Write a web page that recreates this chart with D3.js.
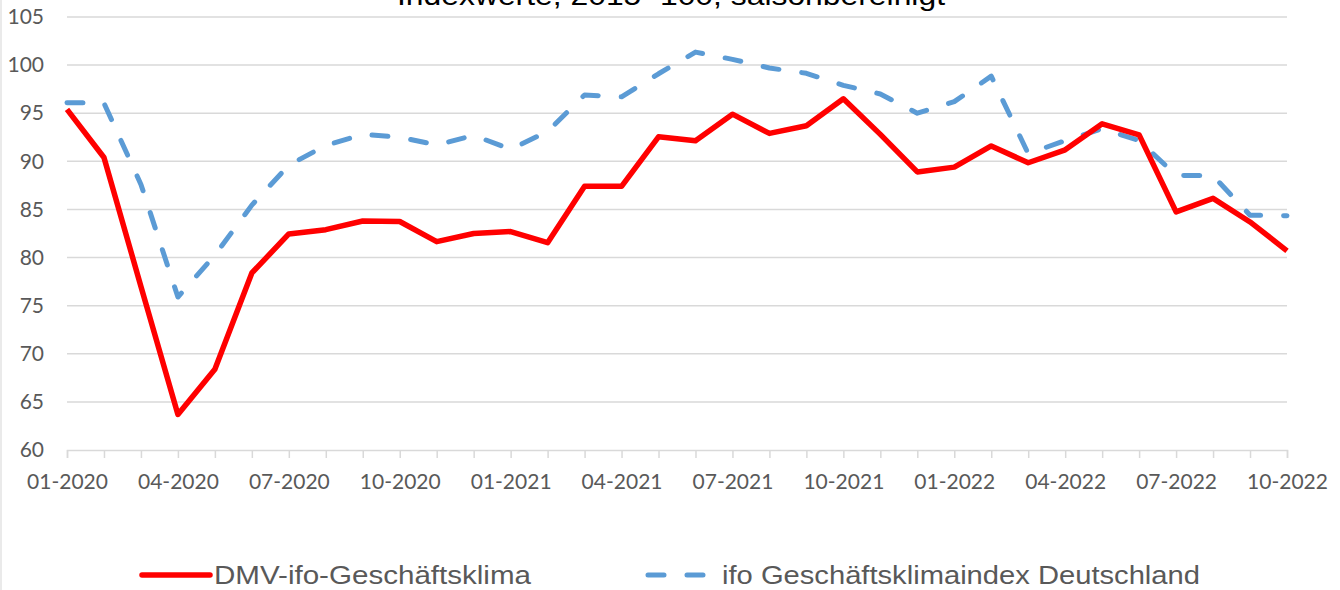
<!DOCTYPE html>
<html>
<head>
<meta charset="utf-8">
<script src="https://cdn.jsdelivr.net/npm/d3@7"></script>
<style>
  body { margin: 0; background: white; }
</style>
</head>
<body>
<script>
const months = [
  "01-2020", "02-2020", "03-2020", "04-2020", "05-2020", "06-2020",
  "07-2020", "08-2020", "09-2020", "10-2020", "11-2020", "12-2020",
  "01-2021", "02-2021", "03-2021", "04-2021", "05-2021", "06-2021",
  "07-2021", "08-2021", "09-2021", "10-2021", "11-2021", "12-2021",
  "01-2022", "02-2022", "03-2022", "04-2022", "05-2022", "06-2022",
  "07-2022", "08-2022", "09-2022", "10-2022"
];
const tickLabels = ["01-2020", "04-2020", "07-2020", "10-2020", "01-2021", "04-2021",
  "07-2021", "10-2021", "01-2022", "04-2022", "07-2022", "10-2022"];
const yTicks = [60, 65, 70, 75, 80, 85, 90, 95, 100, 105];

const dmv = [95.4, 90.4, 77.0, 63.7, 68.4, 78.4, 82.45, 82.9, 83.8, 83.75, 81.65, 82.5,
  82.7, 81.55, 87.4, 87.4, 92.55, 92.15, 94.9, 92.9, 93.7, 96.5, 92.8, 88.9,
  89.4, 91.6, 89.85, 91.2, 93.9, 92.75, 84.75, 86.15, 83.7, 80.7];
const ifo = [96.1, 96.05, 87.6, 75.9, 80.25, 85.45, 89.6, 91.65, 92.8, 92.5, 91.7, 92.7,
  91.25, 93.1, 96.9, 96.7, 99.1, 101.35, 100.6, 99.7, 99.15, 97.9, 97.0, 95.0,
  96.2, 98.85, 90.8, 92.15, 93.4, 92.15, 88.55, 88.5, 84.4, 84.35];

const seriesNames = ["DMV-ifo-Geschäftsklima", "ifo Geschäftsklimaindex Deutschland"];
const title = "Indexwerte, 2015=100, saisonbereinigt";

const width = 1340;
const height = 590;
const plotLeft = 67;
const plotRight = 1287;
const plotTop = 17;
const plotBottom = 450;

const svg = d3.select("body")
  .append("svg")
  .attr("width", width)
  .attr("height", height);

svg.append("rect")
  .attr("width", "100%")
  .attr("height", "100%")
  .attr("fill", "white");

// faint chart border on the left
svg.append("line")
  .attr("x1", 1).attr("x2", 1)
  .attr("y1", 0).attr("y2", height)
  .attr("stroke", "#e3e3e3")
  .attr("stroke-width", 1.5);

const x = d3.scalePoint().domain(months).range([plotLeft, plotRight]);
const y = d3.scaleLinear().domain([60, 105]).range([plotBottom, plotTop]);

// gridlines
svg.append("g")
  .selectAll("line")
  .data(yTicks.filter(d => d > 60))
  .join("line")
  .attr("x1", plotLeft)
  .attr("x2", plotRight)
  .attr("y1", d => y(d))
  .attr("y2", d => y(d))
  .attr("stroke", "#d9d9d9")
  .attr("stroke-width", 1.5);

// y axis labels
const yAxis = d3.axisLeft(y).tickValues(yTicks).tickSize(0).tickPadding(23);
const gy = svg.append("g")
  .attr("transform", "translate(" + plotLeft + ",0)")
  .call(yAxis);
gy.select(".domain").remove();
gy.selectAll("text")
  .attr("fill", "#595959")
  .style("font-family", "Lato, 'Open Sans', sans-serif")
  .style("font-size", "21px");

// x axis
const xAxis = d3.axisBottom(x)
  .tickSize(8)
  .tickPadding(16)
  .tickFormat(d => tickLabels.includes(d) ? d : "");
const gx = svg.append("g")
  .attr("transform", "translate(0," + plotBottom + ")")
  .call(xAxis);
gx.select(".domain")
  .attr("stroke", "#d9d9d9")
  .attr("stroke-width", 1.5);
gx.selectAll(".tick line")
  .attr("stroke", "#d9d9d9")
  .attr("stroke-width", 1.5);
gx.selectAll("text")
  .attr("fill", "#595959")
  .style("font-family", "Lato, 'Open Sans', sans-serif")
  .style("font-size", "21px");

// title, partly above the top edge as in the source
svg.append("text")
  .attr("x", 671)
  .attr("y", 5)
  .attr("text-anchor", "middle")
  .attr("textLength", 548)
  .attr("lengthAdjust", "spacingAndGlyphs")
  .style("font-family", "'Liberation Sans', Arial, sans-serif")
  .style("font-size", "28px")
  .attr("fill", "#000")
  .text(title);

const line = d3.line()
  .x((d, i) => x(months[i]))
  .y(d => y(d));

svg.append("path")
  .datum(ifo)
  .attr("fill", "none")
  .attr("stroke", "#5b9bd5")
  .attr("stroke-width", 5)
  .attr("stroke-linecap", "round")
  .attr("stroke-linejoin", "round")
  .attr("stroke-dasharray", "16,23")
  .attr("d", line);

svg.append("path")
  .datum(dmv)
  .attr("fill", "none")
  .attr("stroke", "#ff0000")
  .attr("stroke-width", 5.5)
  .attr("stroke-linejoin", "round")
  .attr("d", line);

// legend
const legend = svg.append("g");
legend.append("line")
  .attr("x1", 142).attr("x2", 210)
  .attr("y1", 575).attr("y2", 575)
  .attr("stroke", "#ff0000")
  .attr("stroke-width", 5.5)
  .attr("stroke-linecap", "round");
legend.append("text")
  .attr("x", 214)
  .attr("y", 584)
  .attr("textLength", 317)
  .attr("lengthAdjust", "spacingAndGlyphs")
  .attr("fill", "#595959")
  .style("font-family", "'Liberation Sans', Arial, sans-serif")
  .style("font-size", "25px")
  .text(seriesNames[0]);

legend.append("line")
  .attr("x1", 648).attr("x2", 708)
  .attr("y1", 575).attr("y2", 575)
  .attr("stroke", "#5b9bd5")
  .attr("stroke-width", 5)
  .attr("stroke-linecap", "round")
  .attr("stroke-dasharray", "16,23");
legend.append("text")
  .attr("x", 722)
  .attr("y", 584)
  .attr("textLength", 478)
  .attr("lengthAdjust", "spacingAndGlyphs")
  .attr("fill", "#595959")
  .style("font-family", "'Liberation Sans', Arial, sans-serif")
  .style("font-size", "25px")
  .text(seriesNames[1]);
</script>
</body>
</html>
